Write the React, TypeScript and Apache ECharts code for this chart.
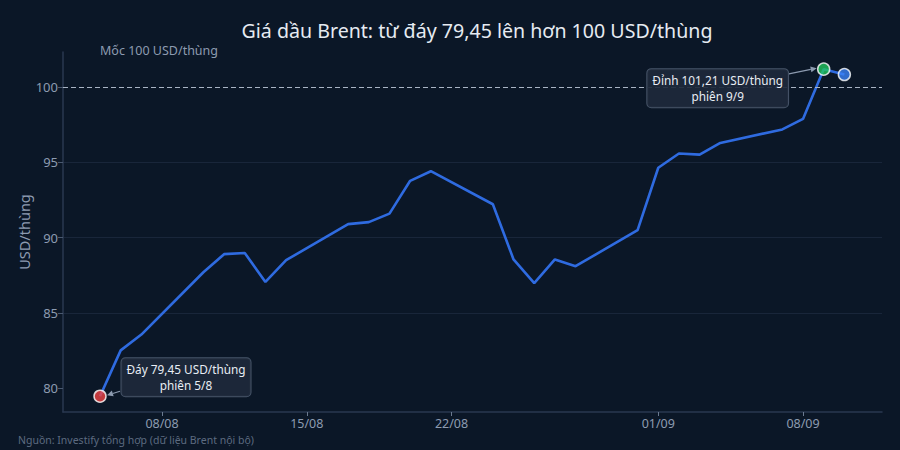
import { useEffect, useRef } from 'react'
import * as echarts from 'echarts'

// Brent daily closes (trading days only)
const dates = [
  '2026-08-05', '2026-08-06', '2026-08-07',
  '2026-08-10', '2026-08-11', '2026-08-12', '2026-08-13', '2026-08-14',
  '2026-08-17', '2026-08-18', '2026-08-19', '2026-08-20', '2026-08-21',
  '2026-08-24', '2026-08-25', '2026-08-26', '2026-08-27', '2026-08-28',
  '2026-08-31', '2026-09-01', '2026-09-02', '2026-09-03', '2026-09-04',
  '2026-09-07', '2026-09-08', '2026-09-09', '2026-09-10',
]
const prices = [
  79.45, 82.5, 83.55,
  87.7, 88.9, 88.98, 87.05, 88.5,
  90.9, 91.03, 91.6, 93.78, 94.42,
  92.22, 88.55, 86.98, 88.55, 88.1,
  90.5, 94.65, 95.6, 95.52, 96.3,
  97.2, 97.9, 101.21, 100.85,
]
const xTickDates = ['2026-08-08', '2026-08-15', '2026-08-22', '2026-09-01', '2026-09-08']
const yTicks = [80, 85, 90, 95, 100]
const thresholdValue = 100
const lowIndex = 0
const peakIndex = 25
const lastIndex = 26

const toTime = (d: string) => {
  const [y, m, day] = d.split('-').map(Number)
  return new Date(y, m - 1, day).getTime()
}
const DAY = 24 * 3600 * 1000
const pad2 = (n: number) => (n < 10 ? '0' + n : '' + n)
const fmtPrice = (v: number) => v.toFixed(2).replace('.', ',')
const fmtSession = (d: string) => {
  const t = new Date(toTime(d))
  return `${t.getDate()}/${t.getMonth() + 1}`
}

const FONT = '"Noto Sans", "Open Sans", sans-serif'
const BG = '#0b1727'
const LINE = '#2f6be0'
const MUTED = '#8d9bb0'

export default function App() {
  const chartRef = useRef<HTMLDivElement>(null)

  useEffect(() => {
    if (!chartRef.current) return
    const chart = echarts.init(chartRef.current, undefined, { renderer: 'svg' })

    const seriesData = dates.map((d, i) => [toTime(d), prices[i]])
    const highlight = [
      { idx: lowIndex, color: '#ef4444' },
      { idx: peakIndex, color: '#22c55e' },
      { idx: lastIndex, color: '#3b82f6' },
    ]

    const option = {
      animation: false,
      backgroundColor: BG,
      textStyle: { fontFamily: FONT },
      title: {
        text: 'Giá dầu Brent: từ đáy 79,45 lên hơn 100 USD/thùng',
        left: 472,
        textAlign: 'center',
        top: 15,
        textStyle: { color: '#e6ebf2', fontSize: 19.6, fontWeight: 'normal', fontFamily: FONT },
      },
      grid: { left: 63, right: 18, top: 52, bottom: 38 },
      xAxis: {
        type: 'value',
        min: toTime('2026-08-08') - 4.79 * DAY,
        max: toTime('2026-09-08') + 3.82 * DAY,
        axisLine: { lineStyle: { color: '#2a3950', width: 1.5 } },
        axisTick: { show: true, length: 4, lineStyle: { color: '#6b7a90' }, customValues: xTickDates.map(toTime) },
        axisLabel: {
          customValues: xTickDates.map(toTime),
          color: MUTED,
          fontSize: 12.5,
          fontFamily: FONT,
          margin: 5,
          formatter: (v: number) => {
            const t = new Date(v)
            return `${pad2(t.getDate())}/${pad2(t.getMonth() + 1)}`
          },
        },
        splitLine: { show: false },
      },
      yAxis: {
        type: 'value',
        min: 78.4,
        max: 102.35,
        name: 'USD/thùng',
        nameLocation: 'middle',
        nameGap: 32,
        nameMoveOverlap: false,
        nameTextStyle: { color: MUTED, fontSize: 14.5, fontFamily: FONT },
        axisLine: { show: true, lineStyle: { color: '#2a3950', width: 1.5 } },
        axisTick: { show: true, length: 5, lineStyle: { color: '#4a5970' }, customValues: yTicks },
        axisLabel: { customValues: yTicks, color: MUTED, fontSize: 13, fontFamily: FONT, margin: 5 },
        splitLine: { show: true, showMinLine: false, showMaxLine: false, lineStyle: { color: '#19263a', width: 1 } },
      },
      series: [
        {
          type: 'line',
          data: seriesData,
          showSymbol: false,
          lineStyle: { color: LINE, width: 2.6 },
          itemStyle: { color: LINE },
          z: 3,
          markLine: {
            silent: true,
            symbol: ['none', 'none'],
            label: { show: false },
            lineStyle: { color: '#a9b4c4', type: [5, 3], width: 1.2 },
            data: [{ yAxis: thresholdValue }],
          },
        },
        {
          type: 'scatter',
          symbolSize: 12,
          z: 5,
          data: highlight.map((h) => ({
            value: seriesData[h.idx],
            itemStyle: { color: h.color, borderColor: '#ffffff', borderWidth: 1.5 },
          })),
        },
      ],
    }

    chart.setOption(option)

    const px = (i: number) => chart.convertToPixel({ gridIndex: 0 }, seriesData[i]) as number[]

    const arrow = (x1: number, y1: number, x2: number, y2: number) => {
      const ang = Math.atan2(y2 - y1, x2 - x1)
      const len = 6
      const w = 3
      const bx = x2 - len * Math.cos(ang)
      const by = y2 - len * Math.sin(ang)
      return [
        { type: 'line', shape: { x1, y1, x2: bx, y2: by }, style: { stroke: '#8d9bb0', lineWidth: 1.2 }, z: 20 },
        {
          type: 'polygon',
          shape: {
            points: [
              [x2, y2],
              [bx + w * Math.sin(ang), by - w * Math.cos(ang)],
              [bx - w * Math.sin(ang), by + w * Math.cos(ang)],
            ],
          },
          style: { fill: '#8d9bb0' },
          z: 20,
        },
      ]
    }

    // annotation box sized by its own text
    const box = (cx: number, cy: number, text: string) => ({
      type: 'text',
      x: cx,
      y: cy,
      z: 22,
      style: {
        text,
        fill: '#e8edf4',
        fontSize: 11.8,
        fontFamily: FONT,
        align: 'center',
        verticalAlign: 'middle',
        lineHeight: 16,
        backgroundColor: 'rgba(30,41,59,0.92)',
        borderColor: '#475569',
        borderWidth: 1,
        borderRadius: 4,
        padding: [3, 5],
      },
    })

    const [lx, ly] = px(lowIndex)
    const [hx, hy] = px(peakIndex)

    chart.setOption({
      graphic: [
        {
          type: 'text',
          left: 100,
          top: 44,
          style: { text: 'Mốc 100 USD/thùng', fill: MUTED, fontSize: 12.5, fontFamily: FONT },
        },
        {
          type: 'text',
          left: 18,
          top: 434,
          style: { text: 'Nguồn: Investify tổng hợp (dữ liệu Brent nội bộ)', fill: '#5d6b80', fontSize: 10.5, fontFamily: FONT },
        },
        ...arrow(lx + 20, ly - 5, lx + 7, ly - 1),
        box(lx + 86, ly - 19, `Đáy ${fmtPrice(prices[lowIndex])} USD/thùng\nphiên ${fmtSession(dates[lowIndex])}`),
        ...arrow(hx - 36, hy + 5, hx - 7, hy - 1),
        box(hx - 106, hy + 19, `Đỉnh ${fmtPrice(prices[peakIndex])} USD/thùng\nphiên ${fmtSession(dates[peakIndex])}`),
      ],
    })

    return () => {
      chart.dispose()
    }
  }, [])

  return (
    <div
      ref={chartRef}
      style={{ position: 'fixed', left: 0, top: 0, width: 900, height: 450 }}
    />
  )
}
